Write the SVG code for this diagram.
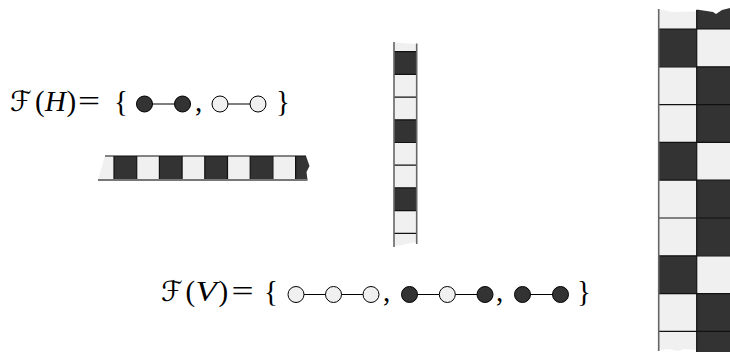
<svg xmlns="http://www.w3.org/2000/svg" width="730" height="352" viewBox="0 0 730 352">
<defs>
<style>
.dk{fill:#333333}
.lt{fill:#f0f0f0}
.grid{stroke:#111111;stroke-width:1.2;fill:none}
.side{stroke:#666666;stroke-width:1.6;fill:none}
.edge{stroke:#000000;stroke-width:1.1;fill:none}
.nd{stroke:#000000;stroke-width:1}
.tx{font-family:"Liberation Serif","DejaVu Serif",serif;font-size:29px;fill:#000000}
.it{font-style:italic}
.cal{font-family:"DejaVu Serif","DejaVu Sans",serif;font-size:28px;fill:#000000}
</style>
</defs>
<rect width="730" height="352" fill="#ffffff"/>

<g id="formula-H">
<text class="cal" x="10" y="111">ℱ</text>
<text class="tx" x="35" y="111">(</text>
<text class="tx it" x="45" y="111">H</text>
<text class="tx" x="66.5" y="111">)</text>
<text class="tx" transform="translate(78,111) scale(1.35,1)" x="0" y="0">=</text>
<text class="tx" x="114" y="111">{</text>
<text class="tx" x="195" y="111">,</text>
<text class="tx" x="276" y="111">}</text>
</g>

<g id="formula-V">
<text class="cal" x="161" y="301">ℱ</text>
<text class="tx" x="185.5" y="301">(</text>
<text class="tx it" transform="translate(195.5,301) scale(1.2,1)" x="0" y="0">V</text>
<text class="tx" x="218.5" y="301">)</text>
<text class="tx" transform="translate(231.5,301) scale(1.35,1)" x="0" y="0">=</text>
<text class="tx" x="264" y="301">{</text>
<text class="tx" x="383" y="301">,</text>
<text class="tx" x="496" y="301">,</text>
<text class="tx" x="577" y="301">}</text>
</g>

<g id="connectors">
<line class="edge" x1="144.5" y1="104" x2="182.5" y2="104"/>
<line class="edge" x1="220" y1="104" x2="258" y2="104"/>
<line class="edge" x1="296" y1="294.5" x2="371" y2="294.5"/>
<line class="edge" x1="409.5" y1="294.5" x2="485" y2="294.5"/>
<line class="edge" x1="522.5" y1="294.5" x2="560.5" y2="294.5"/>
</g>

<g id="nodes-H">
<circle id="h1" class="nd dk" cx="144.5" cy="104" r="8"/>
<circle id="h2" class="nd dk" cx="182.5" cy="104" r="8"/>
<circle id="h3" class="nd lt" cx="220" cy="104" r="8"/>
<circle id="h4" class="nd lt" cx="258" cy="104" r="8"/>
</g>

<g id="nodes-V">
<circle id="v1" class="nd lt" cx="296" cy="294.5" r="8"/>
<circle id="v2" class="nd lt" cx="333.5" cy="294.5" r="8"/>
<circle id="v3" class="nd lt" cx="371" cy="294.5" r="8"/>
<circle id="v4" class="nd dk" cx="409.5" cy="294.5" r="8"/>
<circle id="v5" class="nd lt" cx="447.3" cy="294.5" r="8"/>
<circle id="v6" class="nd dk" cx="485" cy="294.5" r="8"/>
<circle id="v7" class="nd dk" cx="522.5" cy="294.5" r="8"/>
<circle id="v8" class="nd dk" cx="560.5" cy="294.5" r="8"/>
</g>

<g id="strip-horizontal">
<polygon class="lt" points="98,180 105,156 114,156 114,180"/>
<rect class="dk" x="114" y="156" width="22.7" height="24"/>
<rect class="lt" x="136.7" y="156" width="22.7" height="24"/>
<rect class="dk" x="159.4" y="156" width="22.7" height="24"/>
<rect class="lt" x="182.1" y="156" width="22.7" height="24"/>
<rect class="dk" x="204.8" y="156" width="22.7" height="24"/>
<rect class="lt" x="227.5" y="156" width="22.7" height="24"/>
<rect class="dk" x="250.2" y="156" width="22.7" height="24"/>
<rect class="lt" x="272.9" y="156" width="22.7" height="24"/>
<path class="dk" d="M295.6,156 H306 L309.5,166 L306.5,172 L307.5,180 H295.6 Z"/>
<path class="grid" d="M114,156 V180 M136.7,156 V180 M159.4,156 V180 M182.1,156 V180 M204.8,156 V180 M227.5,156 V180 M250.2,156 V180 M272.9,156 V180 M295.6,156 V180"/>
<line class="grid" x1="105" y1="156" x2="306" y2="156"/>
<line x1="98" y1="180" x2="307.5" y2="180" stroke="#777777" stroke-width="2"/>
</g>

<g id="strip-vertical">
<polygon class="lt" points="394,42.5 416.7,44 416.7,51.7 394,51.7"/>
<rect class="dk" x="394" y="51.7" width="22.7" height="22.7"/>
<rect class="lt" x="394" y="74.4" width="22.7" height="22.7"/>
<rect class="lt" x="394" y="97.1" width="22.7" height="22.7"/>
<rect class="dk" x="394" y="119.8" width="22.7" height="22.7"/>
<rect class="lt" x="394" y="142.5" width="22.7" height="22.7"/>
<rect class="lt" x="394" y="165.2" width="22.7" height="22.7"/>
<rect class="dk" x="394" y="187.9" width="22.7" height="22.7"/>
<rect class="lt" x="394" y="210.6" width="22.7" height="22.7"/>
<polygon class="lt" points="394,233.3 416.7,233.3 416.7,242 394,246.5"/>
<path class="grid" d="M394,51.7 H416.7 M394,74.4 H416.7 M394,97.1 H416.7 M394,119.8 H416.7 M394,142.5 H416.7 M394,165.2 H416.7 M394,187.9 H416.7 M394,210.6 H416.7 M394,233.3 H416.7"/>
<line class="side" x1="394" y1="42" x2="394" y2="247"/>
<line class="side" x1="416.7" y1="43.5" x2="416.7" y2="244"/>
</g>

<g id="checkerboard">
<path class="lt" d="M658.7,9 L672,12 L696.7,11.5 V29 H658.7 Z"/>
<path class="dk" d="M696.7,9.5 L713,12 L716,14 L722,10 L730,8 V29 H696.7 Z"/>
<rect class="dk" x="658.7" y="29" width="38" height="37.8"/>
<rect class="lt" x="696.7" y="29" width="38" height="37.8"/>
<rect class="lt" x="658.7" y="66.8" width="38" height="37.8"/>
<rect class="dk" x="696.7" y="66.8" width="38" height="37.8"/>
<rect class="lt" x="658.7" y="104.6" width="38" height="37.8"/>
<rect class="dk" x="696.7" y="104.6" width="38" height="37.8"/>
<rect class="dk" x="658.7" y="142.4" width="38" height="37.8"/>
<rect class="lt" x="696.7" y="142.4" width="38" height="37.8"/>
<rect class="lt" x="658.7" y="180.2" width="38" height="37.8"/>
<rect class="dk" x="696.7" y="180.2" width="38" height="37.8"/>
<rect class="lt" x="658.7" y="218" width="38" height="37.8"/>
<rect class="dk" x="696.7" y="218" width="38" height="37.8"/>
<rect class="dk" x="658.7" y="255.8" width="38" height="37.8"/>
<rect class="lt" x="696.7" y="255.8" width="38" height="37.8"/>
<rect class="lt" x="658.7" y="293.6" width="38" height="37.8"/>
<rect class="dk" x="696.7" y="293.6" width="38" height="37.8"/>
<path class="lt" d="M658.7,331.4 H696.7 V350 L684,349 L678,351 L670,349 L658.7,350 Z"/>
<path class="dk" d="M696.7,331.4 H730 V352 H696.7 Z"/>
<path class="grid" d="M658.7,29 H730 M658.7,66.8 H730 M658.7,104.6 H730 M658.7,142.4 H730 M658.7,180.2 H730 M658.7,218 H730 M658.7,255.8 H730 M658.7,293.6 H730 M658.7,331.4 H730"/>
<line class="grid" x1="696.7" y1="10" x2="696.7" y2="352"/>
<line class="side" x1="658.7" y1="9" x2="658.7" y2="351"/>
</g>
</svg>
